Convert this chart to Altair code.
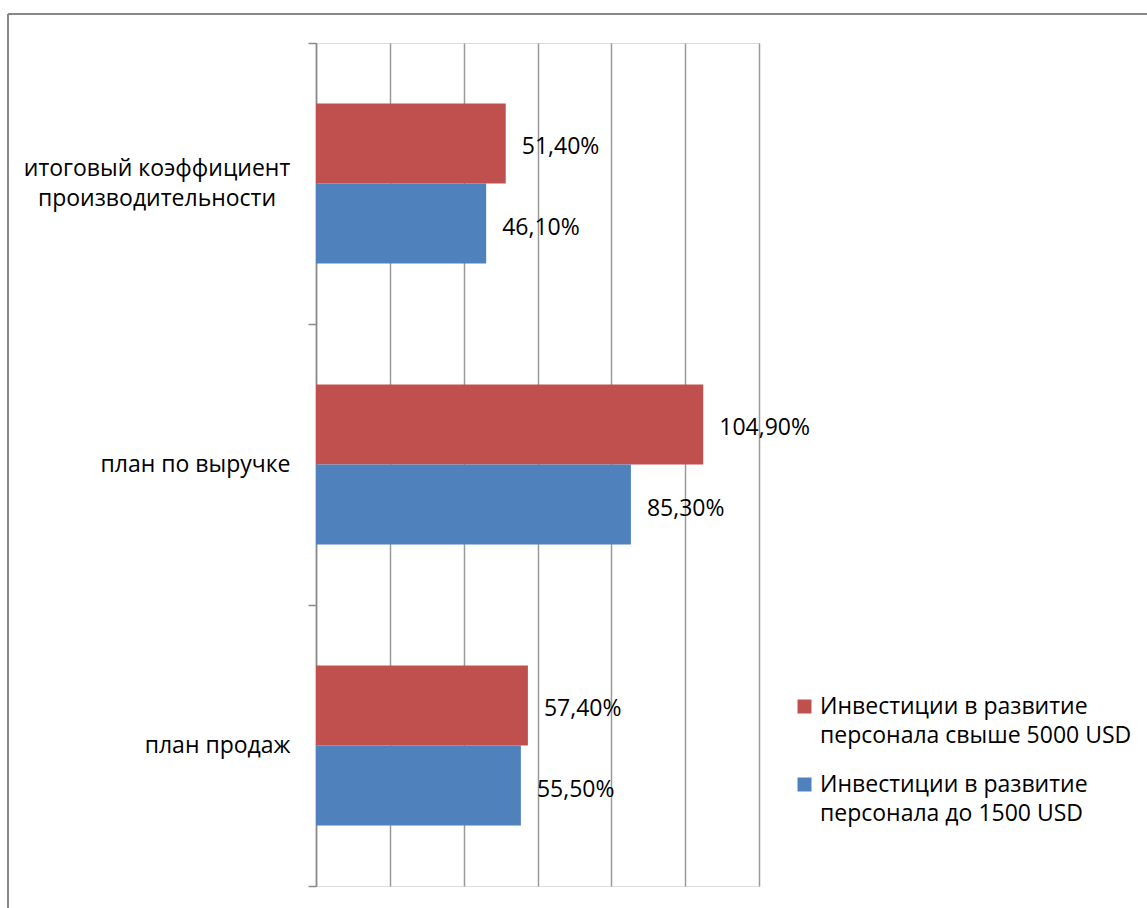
import altair as alt
import pandas as pd

categories = ["итоговый коэффициент|производительности", "план по выручке", "план продаж"]
series = ["Инвестиции в развитие|персонала свыше 5000 USD",
          "Инвестиции в развитие|персонала до 1500 USD"]
values_5000 = [51.4, 104.9, 57.4]
values_1500 = [46.1, 85.3, 55.5]
x_ticks = [0, 20, 40, 60, 80, 100, 120]
colors = ["#C0504D", "#4F81BD"]

rows = []
for c, a, b in zip(categories, values_5000, values_1500):
    rows.append({"category": c, "series": series[0], "value": a})
    rows.append({"category": c, "series": series[1], "value": b})
df = pd.DataFrame(rows)
cat_df = pd.DataFrame({"category": categories})

FONT = "Open Sans"
GRAY = "#8a8a8a"

y_enc = alt.Y("category:N", sort=categories, title=None,
              scale=alt.Scale(paddingInner=0, paddingOuter=0),
              axis=alt.Axis(tickBand="extent", domainColor=GRAY, domainWidth=1.5,
                            tickColor=GRAY, tickWidth=1.5, tickSize=8,
                            labelPadding=18, labelFont=FONT, labelFontSize=23,
                            labelColor="black", labelLimit=400,
                            labelExpr="indexof(datum.label,'|')>=0 ? '' : datum.label",
                            grid=False))
yoff = alt.YOffset("series:N", sort=series,
                   scale=alt.Scale(paddingInner=0, paddingOuter=0.756))
x_enc = alt.X("value:Q", title=None,
              scale=alt.Scale(domain=[0, 120], nice=False),
              axis=alt.Axis(values=x_ticks, labels=False, ticks=False, domain=False,
                            grid=True, gridColor="#9a9a9a", gridWidth=1.5))

bars = alt.Chart(df).mark_bar().encode(
    x=x_enc, y=y_enc, yOffset=yoff,
    color=alt.Color("series:N", sort=series,
                    scale=alt.Scale(domain=series, range=colors),
                    legend=alt.Legend(title=None, orient="none", legendX=477, legendY=652,
                                      symbolType="square", symbolSize=196,
                                      symbolStrokeWidth=0, symbolOpacity=1,
                                      labelFont=FONT, labelFontSize=23, labelColor="black",
                                      labelOffset=4, labelLimit=500,
                                      labelExpr="split(datum.label,'|')",
                                      rowPadding=25, padding=0))
)

labels = alt.Chart(df).transform_calculate(
    label="replace(format(datum.value, '.2f'), '.', ',') + '%'"
).mark_text(align="left", baseline="middle", dx=16, dy=4, font=FONT, fontSize=23,
            color="black").encode(
    x="value:Q", y=alt.Y("category:N", sort=categories), yOffset=yoff,
    text="label:N")

multi_cat = alt.Chart(cat_df).transform_filter(
    "indexof(datum.category,'|')>=0"
).transform_calculate(
    lines="split(datum.category,'|')"
).mark_text(align="center", baseline="middle", dy=-15, lineHeight=30, font=FONT,
            fontSize=23, color="black").encode(
    x=alt.value(-159), y=alt.Y("category:N", sort=categories), text="lines:N")

border_top = alt.Chart(df).mark_rule(color="#888888", strokeWidth=1.5).encode(
    x=alt.value(-308), x2=alt.value(900), y=alt.value(-29))
border_left = alt.Chart(df).mark_rule(color="#888888", strokeWidth=1.5).encode(
    x=alt.value(-308), y=alt.value(-29), y2=alt.value(900))

chart = alt.layer(bars, labels, multi_cat, border_top, border_left).properties(
    width=443, height=843,
    padding={"left": 316, "top": 43, "right": 388, "bottom": 22},
    autosize=alt.AutoSizeParams(type="none"),
    background="white"
).configure_view(stroke=None).configure(style={"guide-label": {"lineHeight": 29}})

chart.save("out.html", embed_options={"renderer": "svg", "actions": False})
